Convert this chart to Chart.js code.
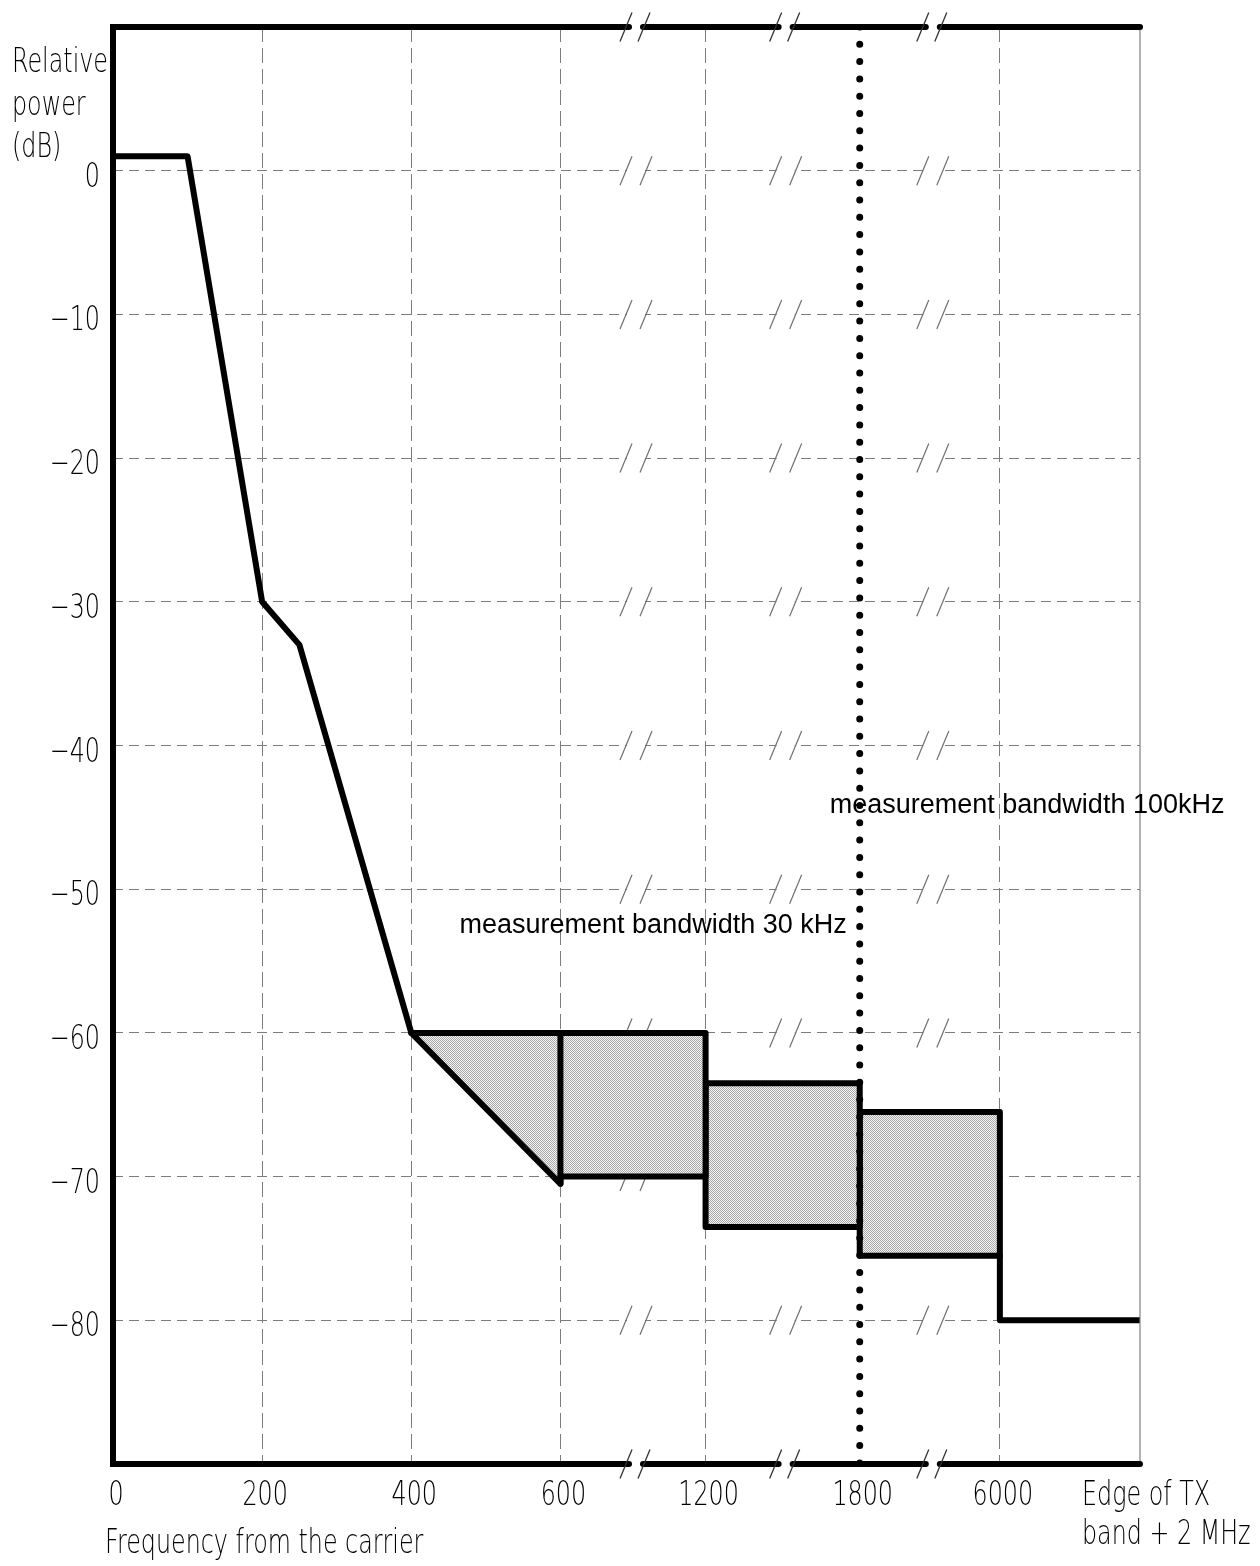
<!DOCTYPE html>
<html lang="en">
<head>
<meta charset="UTF-8">
<title>Spectrum mask - relative power vs frequency from the carrier</title>
<style>
  html, body { margin: 0; padding: 0; background: #fff; }
  canvas { display: block; }
</style>
<script src="https://cdn.jsdelivr.net/npm/chart.js"></script>
</head>
<body>
<canvas id="mask" width="1260" height="1566"></canvas>
<script>
// x axis is broken after 600 kHz, each tick interval gets its own slot
const xTickFreqs = [0, 200, 400, 600, 1200, 1800, 6000];
const xTickLabels = ['0', '200', '400', '600', '1200', '1800', '6000'];
const EDGE = 9000; // stand-in for "edge of TX band + 2 MHz" (right end of the axis)
const yTickValues = [0, -10, -20, -30, -40, -50, -60, -70, -80];

// carrier side of the mask (kHz / dB)
const slopeFreq = [0, 100, 200, 250, 400];
const slopeDb = [1, 1, -30, -33, -60];

// 400..1200 kHz
const band1Freq = [400, 1200, 1200, 600, 600, 400];
const band1Db = [-60, -60, -70, -70, -70.5, -60];
const split600Freq = [600, 600];
const split600Db = [-60, -70.5];

// 1200..1800 kHz
const band2Freq = [1200, 1800, 1800, 1200, 1200];
const band2Db = [-63.5, -63.5, -73.5, -73.5, -63.5];

// 1800..6000 kHz
const band3Freq = [1800, 6000, 6000, 1800, 1800];
const band3Db = [-65.5, -65.5, -75.5, -75.5, -65.5];

// floor out to the band edge
const floorFreq = [6000, 6000, EDGE];
const floorDb = [-75.5, -80, -80];

// where the measurement bandwidth changes
const rbwFreq = [1800, 1800];
const rbwDb = [10, -90];

// drawn width of each tick interval (the axis is not to scale past 600 kHz)
const slotWidths = [149, 149, 149, 145, 154, 140, 140];
const slotStart = [0];
slotWidths.forEach((w, i) => slotStart.push(slotStart[i] + w));

const breaks = xTickFreqs.concat([EDGE]);
function toAxis(f) {
    for (let i = 0; i < breaks.length - 1; i++) {
        if (f <= breaks[i + 1]) return slotStart[i] + slotWidths[i] * (f - breaks[i]) / (breaks[i + 1] - breaks[i]);
    }
    return slotStart[slotStart.length - 1];
}
function pts(fs, dbs) {
    return fs.map((f, i) => ({ x: toAxis(f), y: dbs[i] }));
}

// stippled grey fill
const tile = document.createElement('canvas');
tile.width = 2; tile.height = 2;
const tctx = tile.getContext('2d');
tctx.fillStyle = '#f4f4f4'; tctx.fillRect(0, 0, 2, 2);
tctx.fillStyle = '#a8a8a8'; tctx.fillRect(0, 0, 1, 1); tctx.fillRect(1, 1, 1, 1);
const ctx = document.getElementById('mask').getContext('2d');
const stipple = ctx.createPattern(tile, 'repeat');

const line = {
    showLine: true, pointRadius: 0, borderColor: '#000', borderWidth: 6,
    borderJoinStyle: 'round', borderCapStyle: 'round', fill: false
};

// axis breaks: middle of the 600/1200, 1200/1800 and 1800/6000 slots
const breakSlots = [3, 4, 5].map(i => slotStart[i] + slotWidths[i] / 2);

function narrow(c, text, x, y, align) {
    c.save();
    c.translate(x, y);
    c.scale(0.7, 1);
    c.font = "200 34px 'DejaVu Sans'";
    c.fillStyle = '#000';
    c.textAlign = align;
    c.textBaseline = 'alphabetic';
    c.fillText(text, 0, 0);
    c.restore();
}

function slash(c, cx, cy) {
    c.beginPath();
    c.moveTo(cx - 6, cy + 14.5);
    c.lineTo(cx + 6, cy - 14.5);
    c.stroke();
}

const decor = {
    id: 'decor',
    beforeDatasetsDraw(chart) {
        // "//" marks on the dashed grid lines
        const c = chart.ctx, xs = chart.scales.x, ys = chart.scales.y;
        c.save();
        c.strokeStyle = '#707070';
        c.lineWidth = 1.2;
        yTickValues.forEach(v => {
            const py = ys.getPixelForValue(v);
            breakSlots.forEach(b => {
                const px = xs.getPixelForValue(b) + 3;
                c.fillStyle = '#fff';
                c.fillRect(px - 9, py - 2, 18, 4);
                slash(c, px - 10, py);
                slash(c, px + 10, py);
            });
        });
        c.restore();
    },
    afterDatasetsDraw(chart) {
        const c = chart.ctx, xs = chart.scales.x, ys = chart.scales.y;
        const a = chart.chartArea;
        c.save();
        // right edge
        c.strokeStyle = '#808080';
        c.lineWidth = 1.2;
        c.beginPath();
        c.moveTo(a.right, a.top);
        c.lineTo(a.right, a.bottom);
        c.stroke();
        // left axis
        c.strokeStyle = '#000';
        c.lineWidth = 6;
        c.lineCap = 'butt';
        c.beginPath();
        c.moveTo(a.left, a.top - 3);
        c.lineTo(a.left, a.bottom + 3);
        c.stroke();
        // top and bottom frame with breaks
        const bpx = breakSlots.map(b => xs.getPixelForValue(b) + 2);
        const starts = [a.left].concat(bpx.map(p => p + 8));
        const ends = bpx.map(p => p - 6).concat([a.right]);
        [a.top, a.bottom].forEach(y => {
            c.strokeStyle = '#000';
            c.lineWidth = 6;
            c.lineCap = 'round';
            starts.forEach((s, i) => {
                c.beginPath();
                c.moveTo(s, y);
                c.lineTo(ends[i], y);
                c.stroke();
            });
            c.strokeStyle = '#333';
            c.lineWidth = 1.3;
            c.lineCap = 'butt';
            bpx.forEach(p => { slash(c, p - 9, y); slash(c, p + 9, y); });
        });
        c.restore();

        // tick labels and axis titles
        yTickValues.forEach(v => {
            const t = v < 0 ? '\u2212' + (-v) : String(v);
            narrow(c, t, a.left - 13, ys.getPixelForValue(v) + 16, 'right');
        });
        xTickLabels.forEach((t, i) => {
            narrow(c, t, xs.getPixelForValue(slotStart[i]) + 3, a.bottom + 41, 'center');
        });
        narrow(c, 'Relative', 12, 72, 'left');
        narrow(c, 'power', 12, 115, 'left');
        narrow(c, '(dB)', 12, 157, 'left');
        narrow(c, 'Edge of TX', a.right - 58, a.bottom + 41, 'left');
        narrow(c, 'band + 2 MHz', a.right - 58, a.bottom + 80, 'left');
        narrow(c, 'Frequency from the carrier', a.left - 8, a.bottom + 89, 'left');

        // measurement bandwidth notes either side of the switch line
        const rx = xs.getPixelForValue(toAxis(rbwFreq[0]));
        c.save();
        c.font = "27px 'Liberation Sans', Arial, sans-serif";
        c.fillStyle = '#000';
        c.textBaseline = 'middle';
        c.textAlign = 'right';
        c.fillText('measurement bandwidth 30 kHz', rx - 13, ys.getPixelForValue(-52.5));
        c.textAlign = 'left';
        c.fillText('measurement bandwidth 100kHz', rx - 30, ys.getPixelForValue(-44.2));
        c.restore();
    }
};

new Chart(ctx, {
    type: 'scatter',
    data: {
        datasets: [
            { ...line, label: 'bandwidth switch', data: pts(rbwFreq, rbwDb), borderWidth: 7, borderDash: [0, 17.3] },
            { ...line, label: 'mask', data: pts(slopeFreq, slopeDb) },
            { ...line, label: '600 kHz', data: pts(split600Freq, split600Db) },
            { ...line, label: '400-1200 kHz', data: pts(band1Freq, band1Db), fill: 'shape', backgroundColor: stipple },
            { ...line, label: '1200-1800 kHz', data: pts(band2Freq, band2Db), fill: 'shape', backgroundColor: stipple },
            { ...line, label: '1800-6000 kHz', data: pts(band3Freq, band3Db), fill: 'shape', backgroundColor: stipple },
            { ...line, label: 'floor', data: pts(floorFreq, floorDb) }
        ]
    },
    options: {
        responsive: false,
        devicePixelRatio: 1,
        animation: false,
        events: [],
        layout: { padding: { left: 113, top: 27, right: 120, bottom: 102 } },
        plugins: { legend: { display: false }, tooltip: { enabled: false } },
        scales: {
            x: {
                type: 'linear', min: 0, max: slotStart[slotStart.length - 1],
                ticks: { display: false },
                afterBuildTicks: s => { s.ticks = slotStart.map(v => ({ value: v })); },
                grid: {
                    drawTicks: false, lineWidth: 1,
                    color: c => (c.index === 0 || c.index === 5 || c.index === 7) ? 'rgba(0,0,0,0)' : '#7c7c7c'
                },
                border: { display: false, dash: [15, 6] }
            },
            y: {
                min: -90, max: 10,
                ticks: { display: false, stepSize: 10 },
                grid: {
                    drawTicks: false, lineWidth: 1,
                    color: c => (c.tick.value <= -90 || c.tick.value >= 10) ? 'rgba(0,0,0,0)' : '#7c7c7c'
                },
                border: { display: false, dash: [10, 6] }
            }
        }
    },
    plugins: [decor]
});
</script>
</body>
</html>
